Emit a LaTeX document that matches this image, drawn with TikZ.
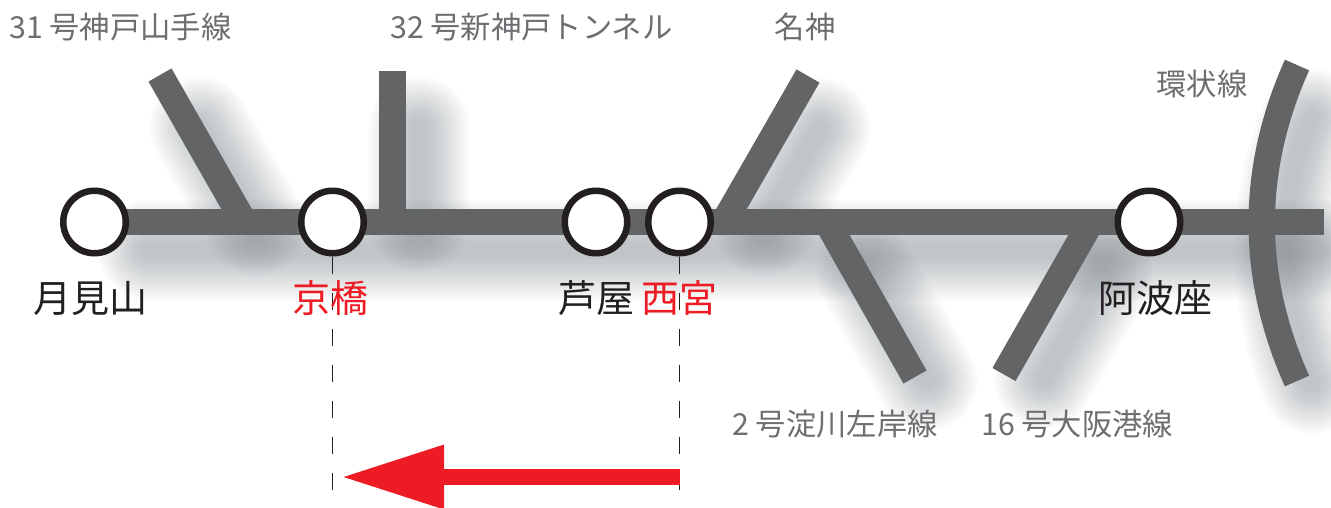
\documentclass[tikz,border=0pt]{standalone}
\usepackage{fontspec}
\setmainfont{Noto Sans CJK JP}
\usetikzlibrary{arrows.meta,backgrounds}
\definecolor{routegray}{HTML}{636466}
\definecolor{labelgray}{HTML}{6D6E71}
\definecolor{inkblack}{HTML}{231F20}
\definecolor{exitred}{HTML}{ED1C24}
\definecolor{softgray}{HTML}{5A646A}
\tikzset{
  station/.style={circle, draw=inkblack, fill=white, line width=6.5pt, minimum size=62.5pt, inner sep=0pt},
  stationlabel/.style={text=inkblack, font=\fontsize{38}{38}\selectfont, inner sep=0pt},
  exitlabel/.style={text=exitred, font=\fontsize{38}{38}\selectfont, inner sep=0pt},
  routelabel/.style={text=labelgray, font=\fontsize{30.3}{30.3}\selectfont, inner sep=0pt},
  route/.style={routegray, line width=26.5pt},
  softroute/.style={softgray, opacity=0.03, line cap=round, shorten <=28pt, shorten >=28pt},
  guide/.style={inkblack, line width=1.8pt, dash pattern=on 17pt off 19pt},
}
\newcommand{\drawroutes}[1]{
  \draw[#1] (tsukimiyama.center) -- (mainend);
  \draw[#1] (j31) -- (end31);
  \draw[#1] (j32) -- (end32);
  \draw[#1] (jmeishin) -- (endmeishin);
  \draw[#1] (j2) -- (end2);
  \draw[#1] (j16) -- (end16);
  \draw[#1] (endloopa) .. controls (ctrlloopa) and (ctrlloopb) .. (endloopb);
}
\begin{document}
\begin{tikzpicture}[x=1pt, y=-1pt]
\useasboundingbox (0,0) rectangle (1331,507);

\node[station] (tsukimiyama) at (94.5,222) {};
\node[station] (kyobashi) at (332.5,222) {};
\node[station] (ashiya) at (596,222) {};
\node[station] (nishinomiya) at (679.5,222) {};
\node[station] (awaza) at (1149,222) {};

\coordinate (mainend) at (1324,222);
\coordinate (j31) at (244,222);
\coordinate (end31) at (160,75);
\coordinate (j32) at (392.5,222);
\coordinate (end32) at (392.5,71);
\coordinate (jmeishin) at (724,222);
\coordinate (endmeishin) at (808,76);
\coordinate (j2) at (827,222);
\coordinate (end2) at (915,377);
\coordinate (j16) at (1091,222);
\coordinate (end16) at (1004,374.5);
\coordinate (endloopa) at (1297,65);
\coordinate (ctrlloopa) at (1250,170);
\coordinate (ctrlloopb) at (1250,276);
\coordinate (endloopb) at (1297,381);

\begin{scope}[on background layer]
\begin{scope}[transform canvas={xshift=26pt, yshift=-28pt}]
\foreach \w in {16,22,...,100} {
  \drawroutes{softroute, line width=\w pt}
}
\end{scope}
\drawroutes{route}
\end{scope}

\coordinate (kyobashidash) at (332.5,490);
\coordinate (nishinomiyadash) at (679.5,490);
\draw[guide] (kyobashi.south) -- (kyobashidash);
\draw[guide] (nishinomiya.south) -- (nishinomiyadash);

\coordinate (arrowstart) at (680,477);
\coordinate (arrowtip) at (341,477);
\draw[exitred, line width=16pt, -{Triangle[length=103pt, width=60pt]}] (arrowstart) -- (arrowtip);

\node[stationlabel] (labeltsukimiyama) at (91,298) {月見山};
\node[exitlabel] (labelkyobashi) at (330,298) {京橋};
\node[stationlabel] (labelashiya) at (596,298) {芦屋};
\node[exitlabel] (labelnishinomiya) at (679,298) {西宮};
\node[stationlabel] (labelawaza) at (1155,298) {阿波座};

\node[routelabel, anchor=west] (label31) at (9,27) {31 号神戸山手線};
\node[routelabel, anchor=west] (label32) at (390,27) {32 号新神戸トンネル};
\node[routelabel] (labelmeishin) at (805,27) {名神};
\node[routelabel] (labelloop) at (1202,84) {環状線};
\node[routelabel, anchor=west] (label2) at (732,424) {2 号淀川左岸線};
\node[routelabel, anchor=west] (label16) at (981,424) {16 号大阪港線};
\end{tikzpicture}
\end{document}
